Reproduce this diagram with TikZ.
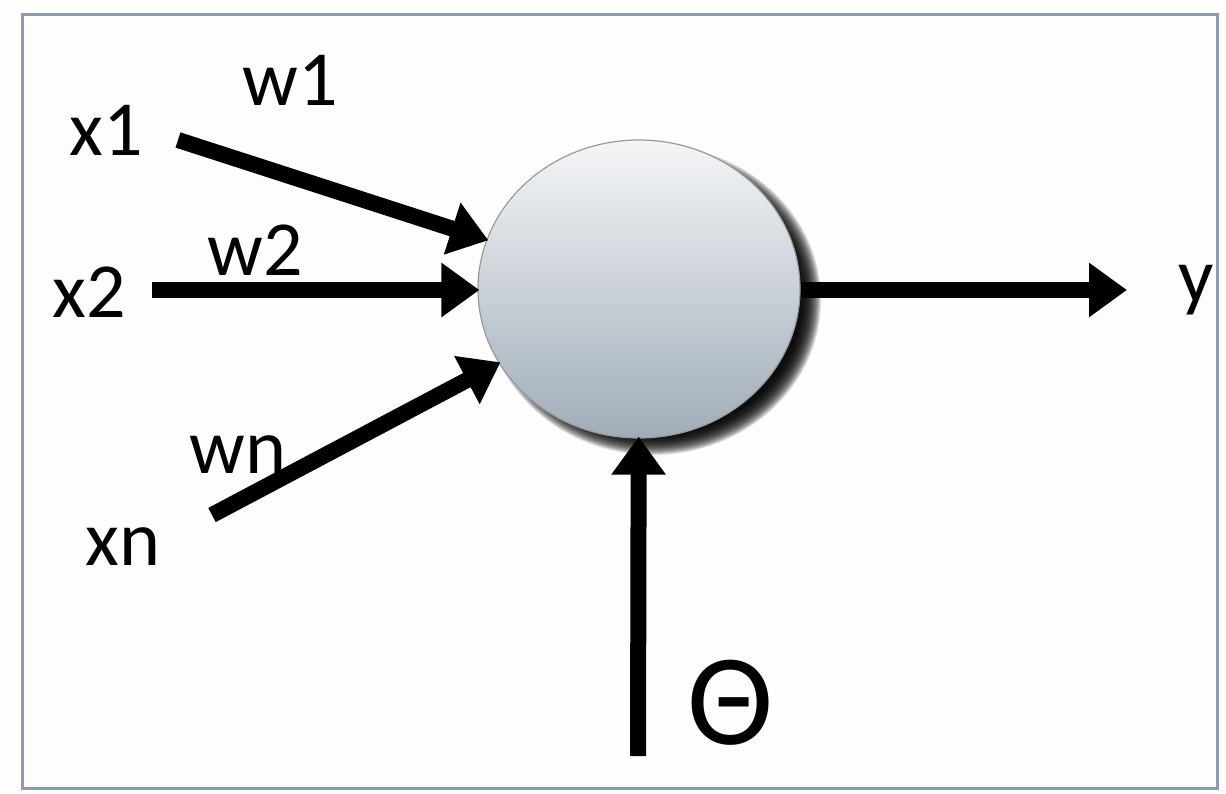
\documentclass[tikz,border=0pt]{standalone}
\usepackage{fontspec}
\setmainfont{Carlito}
\usetikzlibrary{arrows.meta,shapes.geometric}
\definecolor{frame}{HTML}{8A9BB8}
\definecolor{topc}{HTML}{F4F5F7}
\definecolor{botc}{HTML}{A0ADB8}
\definecolor{paper}{HTML}{FDFDFC}
\tikzset{
  wire/.style={line width=16pt,-{Triangle[length=38pt,width=52pt]},shorten >=-2pt},
  lbl/.style={inner sep=0pt,font=\fontsize{78}{80}\selectfont},
}
\begin{document}
\begin{tikzpicture}[x=1pt,y=-1pt]
  \useasboundingbox (0,0) rectangle (1226,793);
  \fill[paper] (0,0) rectangle (1226,793);
  \draw[frame,line width=3pt] (22,14) rectangle (1217,788);
  % soft shadow under the neuron
  \foreach \k in {0,...,20}{
    \fill[black,opacity=0.12] (653,300) ellipse ({168-\k*1.0} and {155-\k*1.0});
  }
  % neuron body
  \node[ellipse,minimum width=322pt,minimum height=298pt,draw=gray!80,line width=1.2pt,
        top color=topc,bottom color=botc] (n) at (639,289) {};
  % input / output / bias points
  \coordinate (x1s) at (178,140);
  \coordinate (x2s) at (152,290);
  \coordinate (xns) at (212,515);
  \coordinate (ye) at (1127,290);
  \coordinate (ths) at (638,756);
  \draw[wire] (x1s) -- (n);
  \draw[wire] (x2s) -- (x2s -| n.west);
  \draw[wire] (xns) -- (n);
  \draw[wire,shorten >=0pt] (n.east |- ye) -- (ye);
  \draw[wire] (ths) -- (n);
  % labels
  \node[lbl] (lx1) at (106,130) {x1};
  \node[lbl] (lw1) at (290,80) {w1};
  \node[lbl] (lx2) at (89,292) {x2};
  \node[lbl] (lw2) at (255,250) {w2};
  \node[lbl] (lwn) at (238,455) {wn};
  \node[lbl] (lxn) at (123,547) {xn};
  \node[lbl] (ly) at (1196,290) {y};
  \node[lbl,font=\fontsize{130}{130}\selectfont] (lth) at (731,703) {Θ};
\end{tikzpicture}
\end{document}
